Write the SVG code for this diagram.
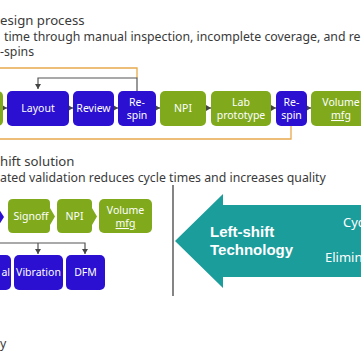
<svg xmlns="http://www.w3.org/2000/svg" width="361" height="361" viewBox="0 0 361 361">
<style>
.t{font-family:"Noto Sans","Open Sans",sans-serif;fill:#3a3a3a}
.bx{font-family:"Noto Sans","Open Sans",sans-serif;fill:#fff;font-size:10.5px;text-anchor:middle}
.end{text-anchor:end}
.blue{fill:#2b10d2}
.green{fill:#80aa1c}
.con{stroke:#555;stroke-width:1.2;fill:none}
.lt{font-family:"Liberation Sans","Arial",sans-serif;font-weight:bold;fill:#fff;font-size:15px}
.rt{font-family:"Noto Sans","Open Sans",sans-serif;fill:#fff;font-size:13px}
</style>
<defs>
<marker id="arr" markerWidth="6" markerHeight="6" refX="5" refY="3" orient="auto" markerUnits="userSpaceOnUse">
<path d="M0,0 L5,3 L0,6 Z" fill="#444"/>
</marker>
</defs>
<rect width="361" height="361" fill="#fff"/>

<g id="texts">
<text class="t" x="0" y="25" font-size="13.2">esign process</text>
<text class="t" x="4" y="41" font-size="12.3">time through manual inspection, incomplete coverage, and re</text>
<text class="t" x="0" y="56" font-size="12.3">-spins</text>
<text class="t" x="0" y="166" font-size="13.2">hift solution</text>
<text class="t" x="0" y="182" font-size="12.3">ated validation reduces cycle times and increases quality</text>
<text class="t" x="0" y="348" font-size="12.3">y</text>
</g>

<g id="connectors">
<polyline points="-5,68 137,68 137,78" stroke="#e8a94c" stroke-width="1.3" fill="none"/>
<polyline points="291,126 291,139 -5,139" stroke="#e8a94c" stroke-width="1.3" fill="none"/>
<polyline class="con" points="137,91 137,78 38,78 38,89" marker-end="url(#arr)"/>
<line class="con" x1="3" y1="108" x2="7" y2="108" marker-end="url(#arr)"/>
<line class="con" x1="69" y1="108" x2="73" y2="108" marker-end="url(#arr)"/>
<line class="con" x1="114" y1="108" x2="118" y2="108" marker-end="url(#arr)"/>
<line class="con" x1="156" y1="108" x2="160" y2="108" marker-end="url(#arr)"/>
<line class="con" x1="206" y1="108" x2="211" y2="108" marker-end="url(#arr)"/>
<line class="con" x1="271" y1="108" x2="276" y2="108" marker-end="url(#arr)"/>
<line class="con" x1="307" y1="108" x2="311" y2="108" marker-end="url(#arr)"/>
<polyline class="con" points="-5,243 85,243 85,254" marker-end="url(#arr)"/>
<line class="con" x1="38" y1="243" x2="38" y2="254" marker-end="url(#arr)"/>
<line x1="173" y1="185" x2="173" y2="296" stroke="#333" stroke-width="1.2"/>
</g>

<g id="n-green0"><rect class="green" x="-30" y="91" width="33" height="35" rx="5"/></g>
<g id="n-layout"><rect class="blue" x="7" y="91" width="62" height="35" rx="5"/><text class="bx" x="38" y="112">Layout</text></g>
<g id="n-review"><rect class="blue" x="73" y="91" width="41" height="35" rx="5"/><text class="bx" x="93.5" y="112">Review</text></g>
<g id="n-respin1"><rect class="blue" x="118" y="91" width="38" height="35" rx="5"/><text class="bx" x="137" y="106">Re-</text><text class="bx" x="137" y="119">spin</text></g>
<g id="n-npi1"><rect class="green" x="160" y="91" width="46" height="35" rx="5"/><text class="bx" x="183" y="112">NPI</text></g>
<g id="n-lab"><rect class="green" x="211" y="91" width="60" height="35" rx="5"/><text class="bx" x="241" y="106">Lab</text><text class="bx" x="241" y="119">prototype</text></g>
<g id="n-respin2"><rect class="blue" x="276" y="91" width="31" height="35" rx="5"/><text class="bx" x="291.5" y="106">Re-</text><text class="bx" x="291.5" y="119">spin</text></g>
<g id="n-volume1"><rect class="green" x="311" y="91" width="60" height="35" rx="5"/><text class="bx" x="341" y="106">Volume</text><text class="bx" x="341" y="119" text-decoration="underline">mfg</text></g>

<g id="n-blue-chev"><polygon class="blue" points="-10,199 -3,199 -3,206 4,217 -3,228 -3,233 -10,233"/></g>
<g id="n-signoff"><path class="green" d="M13,199 H46 Q50,199 50,203 V208 L55,216.5 L50,225 V229 Q50,233 46,233 H13 Q8,233 8,228 V204 Q8,199 13,199 Z"/><text class="bx" x="31" y="220">Signoff</text></g>
<g id="n-npi2"><path class="green" d="M62,199 H88 Q92,199 92,203 V208 L97,216.5 L92,225 V229 Q92,233 88,233 H62 Q57,233 57,228 V204 Q57,199 62,199 Z"/><text class="bx" x="74.5" y="220">NPI</text></g>
<g id="n-volume2"><rect class="green" x="99" y="199" width="53" height="34" rx="5"/><text class="bx" x="125.5" y="214">Volume</text><text class="bx" x="125.5" y="227" text-decoration="underline">mfg</text></g>

<g id="n-thermal"><rect class="blue" x="-40" y="255" width="51" height="35" rx="5"/><text class="bx end" x="10" y="276">al</text></g>
<g id="n-vibration"><rect class="blue" x="14" y="255" width="49" height="35" rx="5"/><text class="bx" x="38.5" y="276">Vibration</text></g>
<g id="n-dfm"><rect class="blue" x="66" y="255" width="39" height="35" rx="5"/><text class="bx" x="85.5" y="276">DFM</text></g>

<g id="n-leftshift">
<polygon points="175,241 223,194 223,205 370,205 370,277 223,277 223,288" fill="#1b9d9b"/>
<text class="lt" x="210" y="237">Left-shift</text>
<text class="lt" x="210" y="255">Technology</text>
<text class="rt" x="343" y="227">Cyc</text>
<text class="rt" x="325" y="262">Elimina</text>
</g>
</svg>
